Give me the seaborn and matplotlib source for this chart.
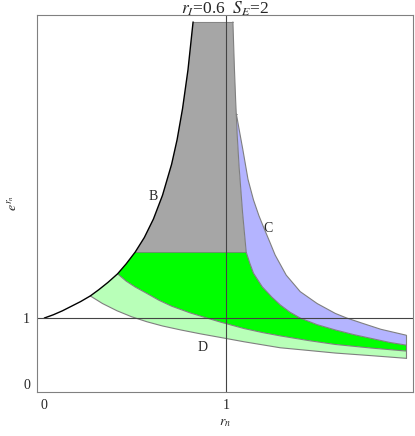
import matplotlib
matplotlib.use("Agg")
import matplotlib.pyplot as plt
import seaborn as sns

# boundary curves (x = r_n, y = e^{r_n})
b_x = [0.0, 0.05, 0.1, 0.15, 0.2, 0.253, 0.3, 0.35, 0.403, 0.45, 0.5,
       0.55, 0.6, 0.65, 0.7, 0.73, 0.76, 0.79, 0.818]
b_y = [1.0, 1.05, 1.11, 1.18, 1.25, 1.335, 1.43, 1.54, 1.67, 1.82, 2.0,
       2.22, 2.5, 2.86, 3.33, 3.7, 4.17, 4.76, 5.485]

# blue lower edge (also right edge of gray and green)
l_x = [1.037, 1.045, 1.052, 1.060, 1.071, 1.09, 1.11, 1.13, 1.15, 1.198,
       1.25, 1.297, 1.35, 1.407, 1.5, 1.6, 1.7, 1.8, 1.9, 1.99]
l_y = [5.485, 4.8, 4.3, 3.8, 3.29, 2.6, 2.0, 1.83, 1.68, 1.475,
       1.32, 1.20, 1.09, 1.0, 0.9, 0.82, 0.75, 0.69, 0.63, 0.59]

# curve C, blue upper edge
c_x = [1.056, 1.075, 1.092, 1.12, 1.15, 1.18, 1.205, 1.24, 1.269, 1.33,
       1.407, 1.5, 1.6, 1.663, 1.75, 1.85, 1.99]
c_y = [4.09, 3.8, 3.545, 3.1, 2.79, 2.55, 2.38, 2.15, 1.955, 1.65,
       1.40, 1.22, 1.07, 1.0, 0.92, 0.83, 0.74]

# green / light green boundary
g_x = [0.403, 0.45, 0.5, 0.564, 0.63, 0.70, 0.8, 0.894, 0.967, 1.10,
       1.2, 1.297, 1.45, 1.60, 1.8, 1.99]
g_y = [1.67, 1.56, 1.47, 1.373, 1.27, 1.18, 1.08, 1.0, 0.94, 0.84,
       0.78, 0.73, 0.66, 0.60, 0.545, 0.50]

# curve D, light green lower edge
d_x = [0.253, 0.32, 0.40, 0.48, 0.564, 0.65, 0.75, 0.86, 0.967, 1.1,
       1.297, 1.45, 1.60, 1.8, 1.99]
d_y = [1.335, 1.22, 1.11, 1.02, 0.944, 0.88, 0.82, 0.76, 0.707, 0.64,
       0.55, 0.51, 0.47, 0.43, 0.39]

s_e = 2.0

gray_c = "#a6a6a6"
green_c = "#00ff00"
lgreen_c = "#b8ffb8"
blue_c = "#b4b4ff"
edge_c = "#7f7f7f"

sns.set_style("white")
plt.rcParams["font.family"] = ["Liberation Serif", "DejaVu Serif"]
plt.rcParams["mathtext.fontset"] = "stix"

fig = plt.figure(figsize=(4.15, 4.36), dpi=100)
ax = fig.add_axes([37 / 415, 1 - 392 / 436, 376 / 415, 377 / 436])


def seg(xs, ys, lo, hi):
    pts = [(x, y) for x, y in zip(xs, ys) if lo <= y <= hi]
    return [p[0] for p in pts], [p[1] for p in pts]


# gray region: up along B, across the top, down along L
bx_up, by_up = seg(b_x, b_y, s_e, 10)
lx_up, ly_up = seg(l_x, l_y, s_e, 10)
ax.fill(bx_up + lx_up, by_up + ly_up, color=gray_c, lw=0)

# green region
bx_mid, by_mid = seg(b_x, b_y, g_y[0], s_e)
lx_lo, ly_lo = seg(l_x, l_y, 0, s_e)
ax.fill(bx_mid + lx_lo + g_x[::-1], by_mid + ly_lo + g_y[::-1],
        color=green_c, lw=0)

# light green region
bx_lo, by_lo = seg(b_x, b_y, d_y[0], g_y[0])
ax.fill(bx_lo + g_x + d_x[::-1], by_lo + g_y + d_y[::-1],
        color=lgreen_c, lw=0)

# blue region
lx_b, ly_b = seg(l_x, l_y, 0, c_y[0])
ax.fill(c_x + lx_b[::-1], c_y + ly_b[::-1], color=blue_c, lw=0)

# region edges
for xs, ys in [(l_x, l_y), (c_x, c_y), (g_x, g_y), (d_x, d_y)]:
    ax.plot(xs, ys, color=edge_c, lw=0.8)
ax.plot([c_x[-1], c_x[-1]], [d_y[-1], c_y[-1]], color=edge_c, lw=0.8)
ax.plot([bx_up[0], lx_up[-1]], [s_e, s_e], color=edge_c, lw=0.6)
ax.plot([bx_up[-1], lx_up[0]], [by_up[-1], ly_up[0]], color=edge_c, lw=0.6)
ax.plot([c_x[0], lx_b[0]], [c_y[0], c_y[0]], color=edge_c, lw=0.6)

sns.lineplot(x=b_x, y=b_y, sort=False, color="black", lw=1.0, ax=ax)

# axes crossing at (1, 1)
ax.axvline(1, color="#444444", lw=0.8)
ax.axhline(1, color="#444444", lw=0.8)

ax.text(0.60, 2.84, "B", fontsize=10, ha="center", va="center")
ax.text(1.23, 2.35, "C", fontsize=10, ha="center", va="center")
ax.text(0.87, 0.55, "D", fontsize=10, ha="center", va="center")

ax.set_xlim(-0.04, 2.027)
ax.set_ylim(-0.12, 5.59)
ax.set_xticks([0, 1])
ax.set_yticks([0, 1])
ax.tick_params(direction="in", length=4, width=0.6, color="#666666",
               labelsize=10, pad=5)
for sp in ax.spines.values():
    sp.set_color("#808080")
    sp.set_linewidth(0.8)

ax.set_title(r"$r_I$=0.6  $S_E$=2", fontsize=12.5, pad=1)
ax.set_xlabel(r"$r_n$", fontsize=10, labelpad=3)
ax.set_ylabel(r"$e^{r_n}$", fontsize=10, labelpad=2)

fig.savefig("out.png", dpi=100)
